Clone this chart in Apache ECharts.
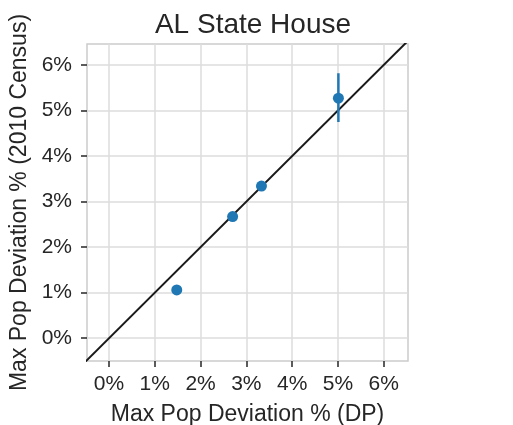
<!DOCTYPE html>
<html>
<head>
<meta charset="utf-8">
<script src="https://cdn.jsdelivr.net/npm/echarts@6/dist/echarts.min.js"></script>
<style>html,body{margin:0;padding:0;background:#fff}#c{width:513px;height:425px}</style>
</head>
<body>
<div id="c"></div>
<script>
const tickValues = [0, 1, 2, 3, 4, 5, 6];
const pointX = [1.48, 2.70, 3.33, 5.01];
const pointY = [1.06, 2.67, 3.34, 5.27];
const errX = [5.01, 5.01];
const errY = [4.75, 5.82];
const diagonal = [-1, 8];
const xRange = [-0.48, 6.53];
const yRange = [-0.50, 6.46];

const FONT = 'Liberation Sans, Arial, sans-serif';
const DARK = '#262626';

function axisCommon(name) {
  return {
    type: 'value',
    name: name,
    nameLocation: 'middle',
    nameTextStyle: { fontFamily: FONT, fontSize: 23, color: DARK },
    axisLine: { show: false, onZero: false },
    axisTick: { show: true, customValues: tickValues, length: 6, inside: false, lineStyle: { color: DARK, width: 1.5 } },
    splitLine: { show: true, lineStyle: { color: '#dcdcdc', width: 1.5 } }
  };
}

const chart = echarts.init(document.getElementById('c'));
chart.setOption({
  animation: false,
  backgroundColor: '#fff',
  title: {
    text: 'AL State House',
    left: 248, top: 6, textAlign: 'center',
    textStyle: { fontFamily: FONT, fontSize: 28, fontWeight: 'normal', color: DARK }
  },
  grid: { left: 87, right: 105, top: 44, bottom: 64, show: true, borderColor: '#cccccc', borderWidth: 1.5, containLabel: false, outerBoundsMode: 'none' },
  xAxis: Object.assign(axisCommon('Max Pop Deviation % (DP)'), {
    min: xRange[0], max: xRange[1], nameGap: 42,
    axisLabel: { customValues: tickValues, fontFamily: FONT, fontSize: 21, color: DARK, margin: 13, formatter: v => v + '%' }
  }),
  yAxis: Object.assign(axisCommon('Max Pop Deviation % (2010 Census)'), {
    min: yRange[0], max: yRange[1], nameGap: 55,
    axisLabel: { customValues: tickValues, fontFamily: FONT, fontSize: 21, color: DARK, margin: 15, formatter: v => v + '%' }
  }),
  series: [
    {
      type: 'line', data: diagonal.map(v => [v, v]), symbol: 'none', clip: true,
      lineStyle: { color: '#1a1a1a', width: 2 }, z: 2
    },
    {
      type: 'line', data: errX.map((x, i) => [x, errY[i]]), symbol: 'none', clip: true,
      lineStyle: { color: '#1f77b4', width: 2.5 }, z: 3
    },
    {
      type: 'scatter', data: pointX.map((x, i) => [x, pointY[i]]), symbolSize: 11,
      itemStyle: { color: '#1f77b4', opacity: 1 }, z: 4
    }
  ]
});
</script>
</body>
</html>
